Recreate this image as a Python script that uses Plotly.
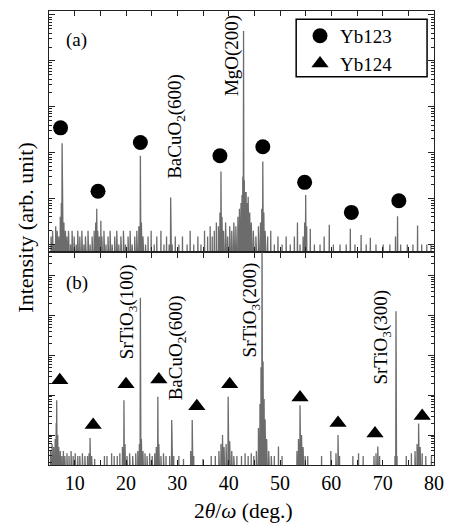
import numpy as np
import plotly.graph_objects as go
from plotly.subplots import make_subplots

# ---------------- data ----------------
# (a) film on MgO: 2theta (deg) and counts
a_two_theta = [5.4, 5.7, 6.0, 6.3, 6.6, 6.9, 7.2, 7.4, 7.55, 7.7, 7.9, 8.2, 8.5, 8.8, 9.2, 9.5, 9.9,
               10.3, 10.6, 11.0, 11.4, 11.8, 12.1, 12.6, 13.0, 13.4, 13.8, 14.1, 14.3, 14.5, 14.8,
               15.1, 15.3, 15.7, 16.1, 16.5, 16.9, 17.3, 17.8, 18.2, 18.6, 19.0, 19.5, 19.9, 20.4,
               20.8, 21.2, 21.7, 22.1, 22.5, 22.8, 23.0, 23.3, 23.8, 24.3, 24.9, 25.5, 26.0, 26.8,
               27.4, 27.9, 28.4, 28.7, 29.0, 29.6, 30.3, 31.0, 31.9, 32.5, 33.2, 34.0, 34.6, 35.3,
               35.9, 36.4, 36.8, 37.2, 37.6, 38.0, 38.3, 38.5, 38.7, 39.0, 39.4, 39.8, 40.2, 40.6,
               41.0, 41.4, 41.8, 42.1, 42.4, 42.6, 42.75, 42.9, 43.05, 43.2, 43.4, 43.6, 43.8, 44.1,
               44.4, 44.8, 45.3, 45.8, 46.2, 46.45, 46.65, 46.85, 47.1, 47.6, 48.2, 48.9, 49.6, 50.4,
               51.2, 52.0, 52.8, 53.4, 53.9, 54.5, 54.8, 55.0, 55.2, 55.9, 56.7, 57.8, 58.6, 59.6,
               60.4, 61.7, 62.9, 63.7, 64.6, 65.8, 66.8, 67.6, 68.7, 70.1, 71.4, 72.5, 72.9, 73.5,
               74.8, 75.9, 76.8, 77.6, 78.6, 79.4]
a_counts = [1.5, 2, 1, 2.5, 2, 1.5, 4, 8, 160, 6, 3, 2, 1.5, 2, 1, 2, 1.5,
            1, 2, 1.5, 2, 1, 1.5, 2, 1, 1.5, 2, 3, 6, 2, 1.5,
            3.3, 1.5, 2, 1, 1.5, 2, 1, 1.5, 2, 1, 1.5, 2, 1, 1.5,
            2, 1, 1.5, 2, 2.5, 86, 3, 1.5, 1, 1.5, 2, 1, 1.5, 2,
            1, 1.5, 1, 10.5, 1, 1.5, 1, 1.5, 1, 2, 1, 1.5, 1, 2,
            1.5, 2.5, 1.5, 2, 3, 2.5, 5, 39, 4, 2, 3, 1.5, 2.5, 2,
            3, 2.5, 4, 6, 8, 12, 30, 45000, 25, 14, 14, 8, 11, 5,
            3, 2, 1.5, 2.5, 3, 6, 64, 5, 2, 1.5, 2, 1, 1.5, 1,
            1.5, 1, 1.5, 3, 1, 1.5, 3, 12, 2.5, 2.2, 1, 1, 1.5, 2.7,
            1, 1, 1, 2.2, 1, 1.6, 1, 1.4, 1, 1, 1, 1.5, 4.1, 1,
            1, 1, 2.6, 1, 1, 1]

# (b) film on SrTiO3: 2theta (deg) and counts
b_two_theta = [5.3, 5.6, 5.9, 6.2, 6.4, 6.5, 6.7, 6.9, 7.2, 7.5, 7.8, 8.1, 8.5, 8.9, 9.3, 9.7,
               10.1, 10.6, 11.0, 11.5, 12.0, 12.5, 12.8, 13.0, 13.3, 13.9, 15.8, 16.3, 17.2, 17.7,
               18.3, 18.8, 19.3, 19.6, 19.8, 20.2, 20.7, 21.3, 21.9, 22.3, 22.6, 22.8, 23.0, 23.3,
               23.7, 24.1, 24.6, 25.1, 25.6, 25.9, 26.2, 26.4, 26.8, 27.3, 27.8, 28.5, 28.9, 29.3,
               30.3, 31.2, 32.6, 32.9, 33.2, 35.0, 36.6, 37.4, 38.1, 38.5, 38.8, 39.1, 39.5, 39.9,
               40.2, 40.6, 41.0, 41.6, 42.5, 43.2, 43.8, 44.4, 44.9, 45.4, 45.8, 46.1, 46.3, 46.5,
               46.7, 46.9, 47.1, 47.4, 47.8, 48.3, 48.9, 49.7, 50.4, 53.3, 53.6, 53.9, 54.2, 54.5,
               54.9, 55.4, 58.1, 59.9, 60.9, 61.3, 61.6, 64.2, 65.3, 66.2, 68.3, 68.7, 69.05, 69.4,
               72.4, 72.6, 72.8, 74.6, 75.6, 76.3, 76.7, 77.0, 77.3, 77.7, 78.4, 79.5]
b_counts = [4, 6, 5, 8, 20, 75, 10, 5, 4, 3, 4, 3, 3.5, 3, 4, 3,
            3.5, 3, 3, 3.5, 3, 3, 3.5, 8.4, 3, 2.5, 3, 3, 3.5, 3,
            3, 3.5, 5, 75, 6, 3, 3.5, 3, 3.5, 4, 6, 27500, 8, 4,
            3.5, 3, 3.5, 3, 3.5, 5, 91, 6, 3, 3.5, 3, 3, 23.7, 3,
            3, 2.5, 4, 23.7, 3, 2.5, 3, 3, 4, 6, 10, 5, 6, 91,
            7, 4, 3, 3, 3, 3.5, 3, 3.5, 3, 4, 15, 60, 500, 1.0e6,
            700, 80, 25, 8, 4, 3, 3, 5.2, 3, 4, 8, 56, 10, 5,
            3, 3, 3, 4, 3.5, 10, 3, 3, 3.5, 3, 3, 3.5, 5.2, 3,
            3, 12600, 3, 3, 3.5, 4, 6, 19.6, 5, 3.5, 3, 3]

# phase markers
yb123_two_theta = [7.25, 14.55, 22.8, 38.3, 46.65, 54.8, 63.9, 73.15]
yb123_counts = [348, 14.4, 167, 86, 135, 22.6, 5, 9]
yb124_two_theta = [7.1, 13.6, 20.0, 26.4, 33.8, 40.2, 53.9, 61.3, 68.5, 77.7]
yb124_counts = [237, 17.8, 188, 247, 53, 188, 87, 20, 11, 30]

# peak labels: text, 2theta, counts at label centre
a_labels = [("BaCuO<sub>2</sub>(600)", 29.76, 367), ("MgO(200)", 40.7, 12900)]
b_labels = [("SrTiO<sub>3</sub>(100)", 20.55, 12600), ("BaCuO<sub>2</sub>(600)", 29.95, 1500),
            ("SrTiO<sub>3</sub>(200)", 44.35, 13300), ("SrTiO<sub>3</sub>(300)", 69.9, 2800)]
panel_tags = [("(a)", 10.4, 28600), ("(b)", 10.4, 63000)]

x_ticks = [10, 20, 30, 40, 50, 60, 70, 80]

# ---------------- drawing ----------------
SERIF = "Liberation Serif, Times New Roman, serif"
ZERO = 0.1  # zero-count level, below the visible range


def spikes(tt, cc, half=0.07):
    xs, ys = [], []
    for t, c in zip(tt, cc):
        xs += [t - half, t, t + half]
        ys += [ZERO, c, ZERO]
    return xs, ys


fig = make_subplots(rows=2, cols=1, shared_xaxes=True, vertical_spacing=0,
                    row_heights=[242, 213])

line_style = dict(color="#6c6c6c", width=1.3)
ax, ay = spikes(a_two_theta, a_counts)
bx, by = spikes(b_two_theta, b_counts)
fig.add_trace(go.Scatter(x=ax, y=ay, mode="lines", line=line_style, showlegend=False,
                         hoverinfo="skip"), row=1, col=1)
fig.add_trace(go.Scatter(x=bx, y=by, mode="lines", line=line_style, showlegend=False,
                         hoverinfo="skip"), row=2, col=1)

fig.add_trace(go.Scatter(x=yb123_two_theta, y=yb123_counts, mode="markers", name="Yb123",
                         marker=dict(symbol="circle", size=15, color="black")), row=1, col=1)
fig.add_trace(go.Scatter(x=yb124_two_theta, y=yb124_counts, mode="markers", name="Yb124",
                         marker=dict(symbol="triangle-up", size=15, color="black")), row=2, col=1)

label_font = dict(family=SERIF, size=19, color="black")
annots = []
for text, t, c in a_labels:
    annots.append(dict(text=text, x=t, y=np.log10(c), xref="x", yref="y", textangle=-90,
                       showarrow=False, xanchor="center", yanchor="middle", font=label_font))
for text, t, c in b_labels:
    annots.append(dict(text=text, x=t, y=np.log10(c), xref="x2", yref="y2", textangle=-90,
                       showarrow=False, xanchor="center", yanchor="middle", font=label_font))
for (text, t, c), xr, yr in zip(panel_tags, ["x", "x2"], ["y", "y2"]):
    annots.append(dict(text=text, x=t, y=np.log10(c), xref=xr, yref=yr,
                       showarrow=False, xanchor="center", yanchor="middle", font=label_font))
annots.append(dict(text="Intensity (arb. unit)", x=-0.062, y=0.523, xref="paper", yref="paper",
                   textangle=-90, showarrow=False, xanchor="center", yanchor="middle",
                   font=dict(family=SERIF, size=22, color="black")))
annots.append(dict(text="2<i>θ</i>/<i>ω</i> (deg.)", x=0.504, y=-0.101, xref="paper",
                   yref="paper", showarrow=False, xanchor="center", yanchor="middle",
                   font=dict(family=SERIF, size=21.5, color="black")))

frame = dict(showline=True, linecolor="#222", linewidth=1.2, mirror="ticks",
             ticks="inside", tickcolor="#222", showgrid=False, zeroline=False)

xcommon = dict(range=[5, 80], tickvals=x_ticks, ticklen=5, tickwidth=1,
               minor=dict(ticks="inside", dtick=5, ticklen=5, tickcolor="#222", showgrid=False),
               **frame)
fig.update_xaxes(**xcommon)
fig.update_xaxes(showticklabels=False, row=1, col=1)
fig.update_xaxes(tickfont=dict(family=SERIF, size=20, color="black"), row=2, col=1)

ycommon = dict(type="log", dtick=1, ticklen=6, tickwidth=1, showticklabels=False,
               minor=dict(ticks="inside", dtick="D1", ticklen=3, tickcolor="#222",
                          showgrid=False),
               **frame)
fig.update_yaxes(range=[-0.174, 5.087], **ycommon, row=1, col=1)
fig.update_yaxes(range=[0.25, 5.575], **ycommon, row=2, col=1)

# legend frame
fig.add_shape(type="rect", xref="paper", yref="paper", x0=0.642, x1=0.982, y0=0.855, y1=0.982,
              line=dict(color="black", width=1.5), fillcolor="white", layer="above")

fig.update_layout(
    width=454, height=525,
    margin=dict(l=49, r=14, t=10, b=60),
    paper_bgcolor="white", plot_bgcolor="white",
    annotations=annots,
    showlegend=True,
    legend=dict(x=0.652, y=0.987, xanchor="left", yanchor="top",
                bgcolor="rgba(0,0,0,0)", borderwidth=0,
                font=dict(family=SERIF, size=19, color="black"),
                itemsizing="trace", tracegroupgap=0),
)

fig.write_html("out.html")
